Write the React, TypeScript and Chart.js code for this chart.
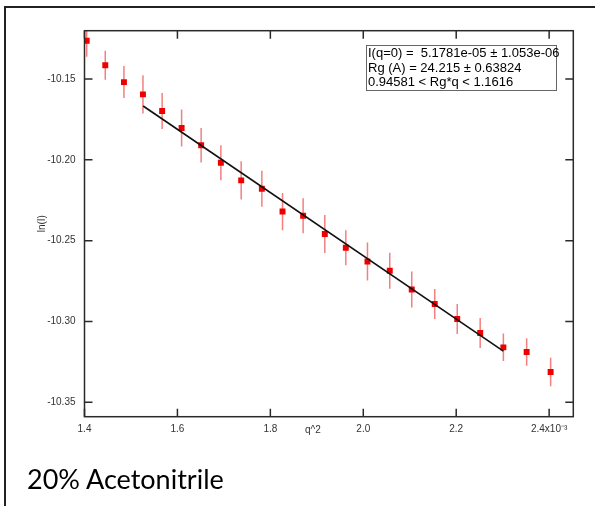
import React, { useEffect, useRef } from "react";
import { Chart, registerables } from "chart.js";

Chart.register(...registerables);

// ---- data ----
const qSquared = [
  1.4047, 1.4447, 1.4849, 1.5258, 1.5671, 1.609, 1.651, 1.6935, 1.7372, 1.7817,
  1.8262, 1.8705, 1.9172, 1.9624, 2.009, 2.057, 2.1043, 2.1538, 2.2022, 2.2516,
  2.3015, 2.3516, 2.4032,
];
const lnI = [
  -10.1263, -10.1415, -10.1519, -10.1595, -10.1698, -10.1803, -10.191, -10.2018,
  -10.2127, -10.2179, -10.232, -10.2346, -10.2459, -10.2544, -10.2629, -10.2686,
  -10.2802, -10.2892, -10.2985, -10.3071, -10.316, -10.3189, -10.3313,
];
const lnIError = [
  0.0099, 0.009, 0.0099, 0.0118, 0.0111, 0.0114, 0.0107, 0.0108, 0.0118, 0.0111,
  0.0115, 0.0108, 0.0118, 0.0108, 0.0118, 0.0111, 0.0111, 0.0093, 0.0093, 0.0093,
  0.0085, 0.0085, 0.0088,
];
const fitQSquared = [1.5262, 2.3015];
const fitLnI = [-10.1667, -10.3183];

const xRange = [1.4, 2.452];
const yRange = [-10.3589, -10.1201];
const xTickValues = [1.4, 1.6, 1.8, 2.0, 2.2, 2.4];
const yTickValues = [-10.35, -10.3, -10.25, -10.2, -10.15];
const lastXTickLabel = "2.4x10\u207B\u00B3";
const xAxisLabel = "q^2";
const yAxisLabel = "ln(I)";
const statsLines = [
  "I(q=0) =  5.1781e-05 \u00B1 1.053e-06",
  "Rg (A) = 24.215 \u00B1 0.63824",
  "0.94581 < Rg*q < 1.1616",
];
const caption = "20% Acetonitrile";

const framePlugin = {
  id: "igorFrame",
  beforeDatasetsDraw(chart: any) {
    const { ctx, chartArea: a, scales } = chart;
    const xs = scales.x;
    const ys = scales.y;
    ctx.save();
    ctx.beginPath();
    ctx.rect(a.left, a.top, a.right - a.left, a.bottom - a.top);
    ctx.clip();
    ctx.strokeStyle = "rgba(240,95,95,0.8)";
    ctx.lineWidth = 1.5;
    qSquared.forEach((q, i) => {
      const px = xs.getPixelForValue(q);
      ctx.beginPath();
      ctx.moveTo(px, ys.getPixelForValue(lnI[i] + lnIError[i]));
      ctx.lineTo(px, ys.getPixelForValue(lnI[i] - lnIError[i]));
      ctx.stroke();
    });
    ctx.restore();
  },
  afterDraw(chart: any) {
    const { ctx, chartArea: a, scales } = chart;
    const xs = scales.x;
    const ys = scales.y;
    const t = 8;
    ctx.save();
    ctx.strokeStyle = "#2a2a2a";
    ctx.lineWidth = 1.5;
    ctx.strokeRect(a.left, a.top, a.right - a.left, a.bottom - a.top);
    ctx.beginPath();
    xTickValues.forEach((v) => {
      const px = xs.getPixelForValue(v);
      ctx.moveTo(px, a.bottom);
      ctx.lineTo(px, a.bottom - t);
      ctx.moveTo(px, a.top);
      ctx.lineTo(px, a.top + t);
    });
    yTickValues.forEach((v) => {
      const py = ys.getPixelForValue(v);
      ctx.moveTo(a.left, py);
      ctx.lineTo(a.left + t, py);
      ctx.moveTo(a.right, py);
      ctx.lineTo(a.right - t, py);
    });
    ctx.stroke();
    ctx.restore();
  },
};

export default function App() {
  const canvasRef = useRef<HTMLCanvasElement | null>(null);

  useEffect(() => {
    const canvas = canvasRef.current;
    if (!canvas) return;
    const tickFont = { family: "'Liberation Sans', Arial, sans-serif", size: 10 };
    const chart = new Chart(canvas, {
      type: "scatter",
      data: {
        datasets: [
          {
            label: "fit",
            data: fitQSquared.map((q, i) => ({ x: q, y: fitLnI[i] })),
            showLine: true,
            borderColor: "#111111",
            borderWidth: 1.6,
            pointRadius: 0,
            order: 0,
          },
          {
            label: "ln(I)",
            data: qSquared.map((q, i) => ({ x: q, y: lnI[i] })),
            pointStyle: "rect",
            pointRadius: 4.2,
            backgroundColor: "#ee0000",
            borderColor: "#ee0000",
            borderWidth: 0,
            showLine: false,
            order: 1,
          },
        ],
      },
      options: {
        animation: false,
        responsive: false,
        maintainAspectRatio: false,
        layout: { padding: { top: 30.7, right: 26.7, left: 0, bottom: 0 } },
        plugins: { legend: { display: false }, tooltip: { enabled: false } },
        scales: {
          x: {
            type: "linear",
            min: xRange[0],
            max: xRange[1],
            grid: { display: false, drawTicks: false, tickLength: 0 },
            border: { display: false },
            afterBuildTicks: (s: any) => {
              s.ticks = xTickValues.map((v) => ({ value: v }));
            },
            afterFit: (s: any) => {
              s.height = 89.3;
            },
            ticks: {
              font: tickFont,
              color: "#333",
              padding: 7,
              maxRotation: 0,
              autoSkip: false,
              callback: (v: any) =>
                Math.abs(Number(v) - 2.4) < 1e-6 ? lastXTickLabel : Number(v).toFixed(1),
            },
          },
          y: {
            type: "linear",
            min: yRange[0],
            max: yRange[1],
            grid: { display: false, drawTicks: false, tickLength: 0 },
            border: { display: false },
            afterBuildTicks: (s: any) => {
              s.ticks = yTickValues.map((v) => ({ value: v }));
            },
            afterFit: (s: any) => {
              s.width = 84.5;
            },
            title: {
              display: true,
              text: yAxisLabel,
              font: tickFont,
              color: "#333",
              padding: { top: 36, bottom: 0 },
            },
            ticks: {
              font: tickFont,
              color: "#333",
              padding: 9,
              autoSkip: false,
              callback: (v: any) => Number(v).toFixed(2),
            },
          },
        },
      },
      plugins: [framePlugin],
    });
    return () => chart.destroy();
  }, []);

  return (
    <div
      style={{
        position: "absolute",
        left: 0,
        top: 0,
        width: 600,
        height: 506,
        background: "#fff",
        overflow: "hidden",
      }}
    >
      <div
        style={{
          position: "absolute",
          left: 4,
          top: 6,
          width: 591,
          height: 510,
          borderLeft: "2px solid #222",
          borderTop: "2px solid #222",
          boxSizing: "border-box",
        }}
      />
      <canvas
        ref={canvasRef}
        width={600}
        height={506}
        style={{ position: "absolute", left: 0, top: 0, display: "block" }}
      />
      <div
        style={{
          position: "absolute",
          left: 305,
          top: 424,
          fontFamily: "'Liberation Sans', Arial, sans-serif",
          fontSize: 10,
          lineHeight: "12px",
          color: "#333",
        }}
      >
        {xAxisLabel}
      </div>
      <div
        style={{
          position: "absolute",
          left: 366,
          top: 45,
          width: 191,
          height: 46,
          boxSizing: "border-box",
          border: "1px solid #666",
          background: "#fff",
          fontFamily: "'Liberation Sans', Arial, sans-serif",
          fontSize: 13,
          lineHeight: "14.5px",
          color: "#000",
          whiteSpace: "pre",
          paddingLeft: 1,
        }}
      >
        {statsLines.map((l, i) => (
          <div key={i}>{l}</div>
        ))}
      </div>
      <div
        style={{
          position: "absolute",
          left: 27,
          top: 465,
          fontFamily: "Lato, 'Open Sans', sans-serif",
          fontSize: 27,
          lineHeight: 1,
          color: "#000",
          whiteSpace: "nowrap",
        }}
      >
        {caption}
      </div>
    </div>
  );
}
